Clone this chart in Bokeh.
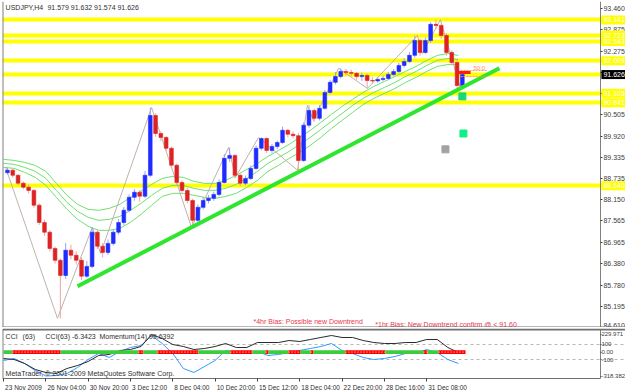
from bokeh.plotting import figure
from bokeh.models import (Range1d, FixedTicker, PrintfTickFormatter, ColumnDataSource,
                          LinearAxis, Span)
from bokeh.layouts import column
from bokeh.embed import file_html
from bokeh.resources import INLINE
from bokeh.core.properties import value

FONT = "Liberation Sans"
FS = "7px"

# ---------------- data ----------------
# candles: each candle = two H4 bars (8 hours); x is the H4 bar index
first_open = 88.90
closes = [88.97, 88.83, 88.61, 88.50, 88.41, 88.00, 87.52, 87.25, 86.80, 86.47,
          86.05, 86.75, 86.61, 86.47, 86.03, 86.30, 87.25, 86.86, 86.69, 86.94,
          87.25, 87.52, 87.86, 88.22, 88.36, 88.25, 88.83, 90.49, 89.99, 89.88,
          89.58, 89.11, 88.63, 88.41, 88.13, 87.58, 87.94, 88.13, 88.19, 88.30,
          88.63, 89.30, 89.38, 88.83, 88.61, 88.74, 89.02, 89.58, 89.85, 89.52,
          89.63, 89.74, 90.08, 89.97, 89.93, 89.24, 90.22, 90.63, 90.41, 90.69,
          91.13, 91.41, 91.57, 91.71, 91.68, 91.66, 91.57, 91.60, 91.46, 91.45,
          91.49, 91.52, 91.63, 91.71, 91.88, 91.99, 92.16, 92.57, 92.24, 92.57,
          93.02, 92.99, 92.71, 92.24, 91.96, 91.32, 91.626]
highs = [89.05, 89.02, 88.86, 88.66, 88.58, 88.45, 88.05, 87.60, 87.30, 86.85,
         86.52, 86.95, 86.90, 86.72, 86.55, 86.45, 87.39, 87.30, 86.95, 87.05,
         87.32, 87.62, 87.95, 88.30, 88.45, 88.42, 88.95, 90.71, 90.55, 90.05,
         89.92, 89.62, 89.15, 88.70, 88.48, 88.18, 88.02, 88.22, 88.28, 88.38,
         88.72, 89.42, 89.60, 89.42, 88.88, 88.82, 89.10, 89.65, 89.88, 89.88,
         89.70, 89.80, 90.18, 90.12, 90.05, 90.00, 90.30, 90.77, 90.68, 90.78,
         91.20, 91.48, 91.70, 91.80, 91.78, 91.76, 91.70, 91.68, 91.65, 91.55,
         91.56, 91.60, 91.70, 91.78, 91.95, 92.08, 92.25, 92.71, 92.62, 92.66,
         93.08, 93.15, 93.05, 92.78, 92.30, 92.05, 91.65]
lows = [88.85, 88.76, 88.55, 88.44, 88.33, 87.93, 87.45, 87.15, 86.72, 86.38,
        84.86, 85.95, 86.50, 86.35, 85.92, 85.98, 86.25, 86.78, 86.55, 86.62,
        86.88, 87.18, 87.45, 87.80, 88.12, 88.10, 88.20, 88.78, 89.90, 89.78,
        89.50, 89.02, 88.55, 88.35, 88.05, 87.38, 87.52, 87.88, 88.05, 88.12,
        88.25, 88.60, 89.20, 88.75, 88.52, 88.55, 88.70, 88.98, 89.52, 89.45,
        89.45, 89.55, 89.70, 89.88, 89.85, 88.97, 89.20, 90.15, 90.32, 90.35,
        90.65, 91.08, 91.35, 91.52, 91.60, 91.58, 91.48, 91.45, 91.24, 91.38,
        91.40, 91.44, 91.47, 91.58, 91.66, 91.82, 91.95, 92.10, 92.15, 92.20,
        92.50, 92.88, 92.62, 92.15, 91.88, 91.24, 91.28]

# moving-average ribbon, one value every 4 H4 bars
ma_upper = [89.271, 89.244, 89.188, 89.105, 88.939, 88.606, 88.273, 88.023, 87.885, 87.857,
            87.912, 88.023, 88.217, 88.384, 88.578, 88.744, 88.800, 88.772, 88.661, 88.606,
            88.606, 88.689, 88.828, 88.994, 89.161, 89.355, 89.521, 89.688, 89.882, 90.076,
            90.298, 90.520, 90.742, 90.936, 91.130, 91.296, 91.435, 91.574, 91.713, 91.851,
            92.018, 92.156, 92.212, 92.156]
ma_mid = [89.161, 89.133, 89.050, 88.939, 88.744, 88.412, 88.079, 87.829, 87.663, 87.579,
          87.607, 87.690, 87.857, 88.051, 88.273, 88.467, 88.550, 88.550, 88.467, 88.412,
          88.412, 88.467, 88.578, 88.744, 88.939, 89.161, 89.327, 89.493, 89.688, 89.882,
          90.104, 90.326, 90.547, 90.769, 90.964, 91.130, 91.269, 91.407, 91.574, 91.713,
          91.879, 92.018, 92.073, 92.045]
ma_lower = [89.050, 89.022, 88.911, 88.772, 88.550, 88.217, 87.885, 87.607, 87.413, 87.302,
            87.302, 87.358, 87.524, 87.746, 87.996, 88.245, 88.328, 88.328, 88.273, 88.217,
            88.190, 88.245, 88.328, 88.495, 88.689, 88.939, 89.105, 89.299, 89.466, 89.660,
            89.882, 90.131, 90.353, 90.575, 90.797, 90.964, 91.102, 91.241, 91.407, 91.546,
            91.713, 91.851, 91.907, 91.907]

# indicator window, one value every 4 H4 bars
cci_vals = [-83.6, -96.6, -148.8, -227.2, -266.3, -279.4, -214.1, -175.0, -122.7, -44.4,
            -31.3, 20.9, 33.9, 73.1, 229.8, 177.6, 99.2, 73.1, 33.9, 47.0,
            73.1, 112.3, 60.1, 60.1, 125.3, 125.3, 125.3, 151.4, 138.4, 164.5,
            190.6, 216.7, 190.6, 190.6, 151.4, 125.3, 112.3, 112.3, 125.3, 125.3,
            164.5, 164.5, 60.1, -6.3]
mom_vals = [-109.7, -83.6, -148.8, -240.2, -312.0, -305.5, -279.4, -201.1, -96.6, -18.3,
            -70.5, 7.8, 60.1, 86.2, 216.7, 112.3, -18.3, -214.1, -266.3, -188.0,
            -109.7, 20.9, -5.2, -18.3, 7.8, -44.4, -31.3, -5.2, 20.9, 47.0,
            73.1, 112.3, 20.9, -18.3, -70.5, -96.6, -83.6, -57.4, -18.3, -18.3,
            33.9, -5.2, -96.6, -148.8]

# colour state bar on the zero line (start / end bar index)
seg_start = [0, 3.4, 21.6, 51.0, 52.9, 58.2, 73.7, 85.8, 94.1, 99.1,
             100.2, 107.8, 112.3, 116.1, 117.2, 129.3, 144.4, 158.8, 160.3, 164.5]
seg_end = [3.4, 21.6, 51.0, 52.9, 58.2, 73.7, 85.8, 94.1, 99.1, 100.2,
           107.8, 112.3, 116.1, 117.2, 129.3, 144.4, 158.8, 160.3, 164.5, 174.7]
seg_state = ["up", "down"] * 10

# zigzag pivots
zz_idx = [0.8, 20.4, 33.6, 36.7, 56.0, 71.1, 85.1, 87.7, 96.4, 111.2,
          114.9, 117.2, 126.7, 137.6, 156.5, 158.4, 165.2, 172.8]
zz_price = [89.05, 84.86, 87.39, 86.66, 90.71, 87.38, 89.60, 88.77, 89.88, 88.97,
            90.77, 90.35, 91.80, 91.24, 92.71, 92.21, 93.15, 91.24]

trend_idx = [28.0, 187.5]
trend_price = [85.75, 91.80]

level_prices = [93.141, 92.723, 92.543, 92.009, 91.640, 91.105, 90.841, 88.540]
boxed_levels = [93.141, 92.723, 92.543, 92.009, 91.105, 90.841, 88.540]
last_price = 91.626

signal_idx = [173.5, 173.9, 167.1]
signal_price = [91.02, 89.99, 89.55]
signal_color = ["#19d873", "#12ef86", "#a3a3a3"]

fib_idx0, fib_idx1 = 172.8, 183.0
fib_prices = [91.74, 91.57]
fib_mid_price = 91.685

price_ticks = [93.460, 92.875, 92.275, 91.690, 91.105, 90.505, 89.920, 89.335,
               88.735, 88.150, 87.565, 86.965, 86.380, 85.780, 85.195, 84.610]
ind_ticks = [229.971, 100, 0, -100, -318.382]
ind_tick_labels = ["229.971", "100", "0.00", "-100", "-318.382"]
time_tick_idx = [0, 16, 32, 48, 64, 80, 96, 112, 128, 144, 160]
time_tick_labels = ["23 Nov 2009", "26 Nov 04:00", "30 Nov 20:00", "3 Dec 12:00", "8 Dec 04:00",
                    "10 Dec 20:00", "15 Dec 12:00", "18 Dec 04:00", "22 Dec 20:00",
                    "28 Dec 16:00", "31 Dec 08:00"]

# ---------------- layout constants ----------------
X_START, X_END = -0.38, 235.18      # frame spans the whole width
AXIS_X = 225.7                       # where the price scale sits
BOX_X = 230.6                        # centre of value boxes on the scale
BOX_TEXT_X = 226.85
PRICE_LO, PRICE_HI = 84.605, 93.654
IND_PANEL_LO, IND_PANEL_HI = -344.7, 295.1

XR = Range1d(X_START, X_END)

# ---------------- main price window ----------------
p = figure(width=625, height=327, x_range=XR, y_range=Range1d(PRICE_LO, PRICE_HI),
           x_axis_location=None, y_axis_location=None, toolbar_location=None,
           output_backend="svg", min_border_left=2, min_border_right=0,
           min_border_top=1, min_border_bottom=0,
           background_fill_color="white", border_fill_color="white")
p.grid.visible = False
p.outline_line_color = None

ax = LinearAxis(fixed_location=AXIS_X, ticker=FixedTicker(ticks=price_ticks),
                formatter=PrintfTickFormatter(format="%.3f"),
                major_label_text_font=FONT, major_label_text_font_size=FS,
                major_label_text_color="#404040", major_tick_out=2, major_tick_in=0,
                minor_tick_line_color=None, major_label_standoff=1,
                axis_line_color="#808080", major_tick_line_color="#404040")
p.add_layout(ax, "right")
p.add_layout(Span(location=X_START, dimension="height", line_color="#808080", line_width=2))
p.add_layout(Span(location=PRICE_LO, dimension="width", line_color="#707070", line_width=2))

p.hspan(y=level_prices, line_color="#ffff00", line_width=4)

ma_idx = [4 * j for j in range(len(ma_mid))]
for arr in (ma_upper, ma_mid, ma_lower):
    p.line(ma_idx, arr, line_color="#6fe06f", line_width=1)

p.line(zz_idx, zz_price, line_color="#bfb2ab", line_width=1)

bar_idx = [2 * k + 1.5 for k in range(len(closes))]
opens = [first_open] + closes[:-1]
up = [c >= o for o, c in zip(opens, closes)]
src = ColumnDataSource(dict(
    x=bar_idx, h=highs, l=lows,
    top=[max(o, c) for o, c in zip(opens, closes)],
    bot=[min(o, c) for o, c in zip(opens, closes)],
    body=["#1f2bff" if u else "#dd2323" for u in up],
    wick=["#9aa0ff" if u else "#f0a3a3" for u in up]))
p.segment(x0="x", y0="h", x1="x", y1="l", line_color="wick", line_width=1, source=src)
p.vbar(x="x", width=1.4, top="top", bottom="bot", fill_color="body", line_color="body",
       line_width=0.6, source=src)

p.line(trend_idx, trend_price, line_color="#2ee62e", line_width=4)

p.scatter(signal_idx, signal_price, marker="square", size=7, fill_color=signal_color,
          line_color=signal_color)

for fp in fib_prices:
    p.segment(x0=[fib_idx0], y0=[fp], x1=[fib_idx1], y1=[fp], line_color="#ff9a3c",
              line_width=1, line_dash="2 1")
p.segment(x0=[fib_idx0 - 0.8], y0=[fib_mid_price], x1=[fib_idx0 + 3.8], y1=[fib_mid_price],
          line_color="#ff1a1a", line_width=3)
p.text(x=[177.7], y=[91.80], text=["50.0"], text_color="#ff9a3c",
       text_font=value(FONT), text_font_size=value("6px"), text_baseline="middle")

p.text(x=[94.5, 140.6], y=[84.76, 84.70],
       text=["*4hr Bias: Possible new Downtrend", "*1hr Bias: New Downtrend confirm @ < 91.60"],
       text_color="#e8364c", text_font=value(FONT), text_font_size=value(FS),
       text_baseline="middle")

p.text(x=[0.8, 16.6], y=[93.49, 93.49], text=["USDJPY,H4", "91.579 91.632 91.574 91.626"],
       text_font=value(FONT), text_font_size=value(FS), text_color="#303030",
       text_baseline="middle")

# value boxes on the price scale (drawn above the scale labels)
box_y = boxed_levels + [last_price]
box_fill = ["#ffff00"] * len(boxed_levels) + ["#000000"]
p.rect(x=[BOX_X] * len(box_y), y=box_y, width=24, height=9, width_units="screen",
       height_units="screen", fill_color=box_fill, line_color=None, level="overlay")
p.text(x=[BOX_TEXT_X] * len(box_y), y=box_y, text=["%.3f" % v for v in box_y],
       text_color="white", text_font=value(FONT), text_font_size=value(FS),
       text_baseline="middle", level="overlay")

# ---------------- indicator window ----------------
q = figure(width=625, height=63, x_range=XR, y_range=Range1d(-501.4, 308.1),
           x_axis_location=None, y_axis_location=None, toolbar_location=None,
           output_backend="svg", min_border_left=2, min_border_right=0,
           min_border_top=1, min_border_bottom=0,
           background_fill_color="white", border_fill_color="white")
q.grid.visible = False
q.outline_line_color = None

qa = LinearAxis(fixed_location=AXIS_X, bounds=(IND_PANEL_LO, IND_PANEL_HI),
                ticker=FixedTicker(ticks=ind_ticks),
                major_label_overrides=dict(zip(ind_ticks, ind_tick_labels)),
                major_label_text_font=FONT, major_label_text_font_size="6px",
                major_label_text_color="#404040", major_tick_out=1, major_tick_in=0,
                minor_tick_line_color=None, major_label_standoff=0,
                axis_line_color="#808080", major_tick_line_color="#404040")
q.add_layout(qa, "right")

xa = LinearAxis(fixed_location=IND_PANEL_LO, bounds=(X_START, AXIS_X),
                ticker=FixedTicker(ticks=time_tick_idx), major_label_text_color=None,
                major_tick_out=3, major_tick_in=0, axis_line_color="#707070",
                minor_tick_line_color=None, major_tick_line_color="#404040")
q.add_layout(xa, "below")
q.add_layout(Span(location=IND_PANEL_HI, dimension="width", line_color="#707070", line_width=2))
q.segment(x0=[X_START], y0=[IND_PANEL_LO], x1=[X_START], y1=[IND_PANEL_HI],
          line_color="#808080", line_width=2)

q.hspan(y=[100, -100], line_color="#b8b8b8", line_width=1, line_dash="3 3")

ind_idx = [4 * j for j in range(len(cci_vals))]
q.line(ind_idx, mom_vals, line_color="#3399ff", line_width=1)
q.line(ind_idx, cci_vals, line_color="#2a2a2a", line_width=1)

seg_col = ["#3ccc3c" if s == "up" else "#ff0000" for s in seg_state]
q.quad(left=seg_start, right=seg_end, top=[24] * len(seg_start), bottom=[-24] * len(seg_start),
       fill_color=seg_col, line_color=None)
red_s = [a for a, s in zip(seg_start, seg_state) if s == "down"]
red_e = [b for b, s in zip(seg_end, seg_state) if s == "down"]
q.segment(x0=red_s, y0=[0] * len(red_s), x1=red_e, y1=[0] * len(red_s),
          line_color="white", line_width=1, line_dash="1 2")

q.text(x=[0.8, 7.2, 15.9, 36.3], y=[205] * 4,
       text=["CCI", "(63)", "CCI(63) -6.3423", "Momentum(14) 99.6392"],
       text_font=value(FONT), text_font_size=value(FS), text_color="#303030",
       text_baseline="middle")
q.text(x=[0.8], y=[-279], text=["MetaTrader, \u00a9 2001-2009 MetaQuotes Software Corp."],
       text_font=value(FONT), text_font_size=value(FS), text_color="#303030",
       text_baseline="middle")

q.text(x=[t + 0.6 for t in time_tick_idx], y=[-468] * len(time_tick_idx), text=time_tick_labels,
       text_font=value(FONT), text_font_size=value("6.5px"), text_color="#303030",
       text_baseline="middle", text_align="left")

layout = column(p, q, spacing=0)
open("out.html", "w").write(file_html(layout, INLINE))
